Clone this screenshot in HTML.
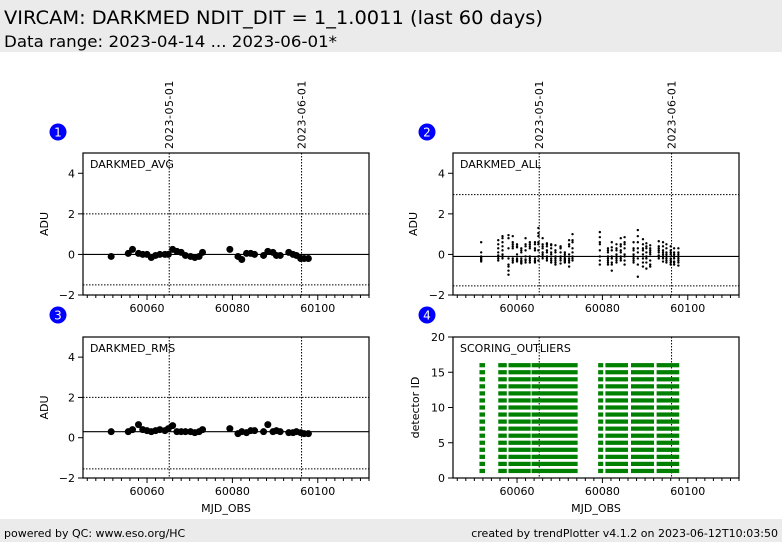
<!DOCTYPE html>
<html><head><meta charset="utf-8">
<style>
html,body{margin:0;padding:0;background:#fff;}
svg{display:block;font-family:"DejaVu Sans","Liberation Sans",sans-serif;}
</style></head>
<body>
<svg id="c" width="782" height="542" viewBox="0 0 782 542" xmlns="http://www.w3.org/2000/svg">
<rect x="0" y="0" width="782" height="52" fill="#ebebeb"/>
<text x="4" y="24" font-size="19" textLength="539" lengthAdjust="spacingAndGlyphs">VIRCAM: DARKMED NDIT_DIT = 1_1.0011 (last 60 days)</text>
<text x="4" y="47" font-size="16" textLength="333" lengthAdjust="spacingAndGlyphs">Data range: 2023-04-14 ... 2023-06-01*</text>
<rect x="0" y="519" width="782" height="23" fill="#ebebeb"/>
<text x="4" y="537" font-size="11">powered by QC: www.eso.org/HC</text>
<text x="778" y="537" font-size="11" text-anchor="end">created by trendPlotter v4.1.2 on 2023-06-12T10:03:50</text>
</svg>
<script>
const mjd=[60051.6,60055.6,60056.6,60058,60059,60060,60061,60062,60063,60064.2,60065,60066,60067,60068,60069,60070.2,60071.2,60072.2,60073,60079.4,60081.3,60082.2,60083.3,60084.3,60085.2,60087.3,60088.3,60089.5,60090.3,60091.2,60093.2,60094.2,60095,60096,60096.8,60097.8];
const avgVals=[-0.1,0.05,0.25,0.05,0.0,0.0,-0.15,-0.05,0.0,0.0,0.0,0.25,0.15,0.1,-0.05,-0.1,-0.15,-0.1,0.1,0.25,-0.1,-0.25,0.05,0.05,0.0,-0.05,0.15,0.1,-0.05,-0.05,0.1,0.0,-0.05,-0.2,-0.2,-0.2];
const rmsVals=[0.3,0.3,0.4,0.65,0.4,0.35,0.3,0.35,0.4,0.35,0.45,0.6,0.3,0.3,0.3,0.3,0.25,0.3,0.4,0.45,0.2,0.3,0.25,0.35,0.35,0.3,0.65,0.3,0.35,0.3,0.25,0.25,0.3,0.25,0.2,0.2];
const allVals=[
[0.6,-0.1,-0.2,-0.3,-0.35,-0.25,-0.15,0.1],
[0.3,0.1,-0.1,-0.2,-0.3,0.5,0.7,-0.05],
[0.9,0.8,0.6,0.4,0.2,-0.1,-0.2,0.0],
[0.95,0.8,0.3,-0.2,-0.5,-0.8,-1.0,-0.6],
[0.9,0.6,0.3,0.4,-0.3,-0.4,-0.2,0.5],
[0.5,0.35,-0.2,-0.3,-0.35,-0.25,0.0,0.4],
[0.3,-0.3,-0.4,-0.35,-0.2,0.1,0.2,-0.45],
[0.8,0.2,-0.3,-0.4,-0.25,0.4,0.5,-0.1],
[0.4,0.3,-0.1,-0.3,-0.4,-0.2,0.5,0.6],
[0.6,0.5,-0.2,-0.35,-0.3,0.2,0.3,-0.4],
[1.3,1.05,0.9,0.5,0.2,-0.1,-0.3,0.6],
[0.8,0.5,0.3,0.1,-0.1,-0.2,0.0,0.4],
[0.55,0.4,0.1,-0.1,-0.3,-0.2,0.2,0.5],
[0.5,0.3,0.0,-0.2,-0.4,-0.3,0.1,0.45],
[0.45,0.1,-0.2,-0.4,-0.5,-0.3,0.2,-0.1],
[0.4,0.3,-0.2,-0.45,-0.3,0.1,-0.1,0.35],
[0.1,-0.2,-0.4,-0.3,0.0,-0.1,-0.35,-0.25],
[0.7,0.4,0.0,-0.2,-0.4,-0.6,-0.3,0.5],
[1.0,0.7,0.3,-0.1,-0.3,-0.2,0.1,0.6],
[1.1,0.85,0.5,0.2,-0.1,-0.3,-0.5,0.6],
[0.3,0.1,-0.2,-0.4,-0.3,-0.1,0.2,-0.5],
[0.6,0.2,-0.2,-0.5,-0.8,-0.4,-0.1,0.35],
[0.5,0.2,-0.1,-0.3,-0.4,0.0,0.3,-0.2],
[0.8,0.5,0.2,-0.1,-0.3,-0.2,0.1,0.4],
[0.85,0.6,0.3,-0.1,-0.5,-0.3,0.0,0.5],
[0.6,0.3,-0.1,-0.4,-0.3,0.0,0.2,-0.2],
[1.2,0.9,0.6,-0.2,-0.5,-1.1,0.1,0.3],
[0.75,0.5,0.2,-0.2,-0.6,-0.4,0.0,0.3],
[0.55,0.3,-0.1,-0.4,-0.7,-0.2,0.1,0.4],
[0.45,0.2,0.0,-0.3,-0.6,-0.5,0.1,0.3],
[0.65,0.4,0.1,-0.1,-0.2,0.2,0.3,-0.05],
[0.6,0.4,0.1,-0.2,-0.35,-0.1,0.2,0.0],
[0.5,0.3,0.0,-0.3,-0.4,-0.2,0.1,-0.1],
[0.4,0.1,-0.2,-0.4,-0.5,-0.3,0.0,0.2],
[0.3,0.0,-0.2,-0.35,-0.5,-0.4,-0.1,0.1],
[0.3,0.0,-0.2,-0.4,-0.55,-0.3,-0.1,0.1]];
const blockStart=[60051.2,60055.6,60058,60063.4,60079,60080.7,60086.7,60092.7];
const blockEnd=[60052.5,60057.6,60063.2,60074.2,60080.2,60086,60092.1,60098];
const detectors=[1,2,3,4,5,6,7,8,9,10,11,12,13,14,15,16];
const xTicks=[60060,60080,60100];
const yTicksAdu=[-2,0,2,4];
const yTicksDet=[0,5,10,15,20];
const dateMjd=[60065.2,60096.2];
const dateLabels=["2023-05-01","2023-06-01"];

const NS="http://www.w3.org/2000/svg";
const svg=document.getElementById('c');
function mk(tag,attrs,parent){const e=document.createElementNS(NS,tag);for(const k in attrs)e.setAttribute(k,attrs[k]);(parent||svg).appendChild(e);return e;}

const XMIN=60045,XMAX=60112;
function panel(cfg){
  const g=mk('g',{});
  
  
  const sx=v=>cfg.x0+(v-XMIN)/(XMAX-XMIN)*(cfg.x1-cfg.x0);
  const sy=v=>cfg.y1-(v-cfg.ymin)/(cfg.ymax-cfg.ymin)*(cfg.y1-cfg.y0);
  cfg.dotted.forEach(v=>{const l=mk('line',{x1:cfg.x0,x2:cfg.x1,y1:sy(v),y2:sy(v),stroke:'#000','stroke-width':1,'stroke-dasharray':'1.5,1.5'},g);
    });
  if(cfg.solid!==undefined){const l=mk('line',{x1:cfg.x0,x2:cfg.x1,y1:sy(cfg.solid),y2:sy(cfg.solid),stroke:'#000','stroke-width':1.2},g);
    }
  dateMjd.forEach((d,i)=>{const l=mk('line',{x1:sx(d),x2:sx(d),y1:cfg.y0,y2:cfg.y1,stroke:'#000','stroke-width':1,'stroke-dasharray':'1.5,1.5'},g);
    
    if(cfg.dateLabels){const t=mk('text',{x:0,y:0,'font-size':11,transform:`translate(${sx(d)+4},${cfg.y0-4}) rotate(-90)`,'letter-spacing':'0.5'},g);
      t.textContent=dateLabels[i];}
  });
  cfg.draw(g,sx,sy);
  const f=mk('rect',{x:cfg.x0,y:cfg.y0,width:cfg.x1-cfg.x0,height:cfg.y1-cfg.y0,fill:'none',stroke:'#000','stroke-width':1.2},g);
  
  for(let v=60046;v<=XMAX;v+=2){const maj=xTicks.includes(v);
    mk('line',{x1:sx(v),x2:sx(v),y1:cfg.y1,y2:cfg.y1+(maj?5:3),stroke:'#000','stroke-width':1},g);}
  xTicks.forEach(v=>{const t=mk('text',{x:sx(v),y:cfg.y1+17,'font-size':11,'text-anchor':'middle'},g);t.textContent=v;
    });
  cfg.yTicks.forEach(v=>{mk('line',{x1:cfg.x0-5,x2:cfg.x0,y1:sy(v),y2:sy(v),stroke:'#000','stroke-width':1},g);
    const t=mk('text',{x:cfg.x0-8,y:sy(v)+4,'font-size':11,'text-anchor':'end'},g);t.textContent=(v<0?'\u2212'+(-v):v);
    });
  const yl=mk('text',{x:0,y:0,'font-size':11,'text-anchor':'middle',transform:`translate(${cfg.ylabX},${(cfg.y0+cfg.y1)/2}) rotate(-90)`},g);
  yl.textContent=cfg.ylab;
  if(cfg.xlab){const xl=mk('text',{x:(cfg.x0+cfg.x1)/2,y:cfg.y1+34,'font-size':11,'text-anchor':'middle'},g);
    xl.textContent='MJD_OBS';}
  const pl=mk('text',{x:cfg.x0+7,y:cfg.y0+15,'font-size':11},g);pl.textContent=cfg.title;
  
  const b=mk('g',{},g);
  mk('circle',{cx:cfg.bx,cy:cfg.by,r:8.5,fill:'#0000ff'},b);
  const bt=mk('text',{x:cfg.bx,y:cfg.by+4.5,'font-size':12,'text-anchor':'middle',fill:'#fff'},b);bt.textContent=cfg.num;
}
function dots(vals,r){return (g,sx,sy)=>{vals.forEach((v,i)=>{const c=mk('circle',{cx:sx(mjd[i]),cy:sy(v),r:r,fill:'#000'},g);
  });};}

panel({name:'darkmed-avg',num:1,title:'DARKMED_AVG',x0:83,x1:369,y0:153,y1:295,ymin:-2,ymax:5,yTicks:yTicksAdu,ylab:'ADU',ylabX:48,
  dotted:[2,-1.5],solid:0,dateLabels:true,bx:58,by:132,draw:dots(avgVals,3.5)});
panel({name:'darkmed-all',num:2,title:'DARKMED_ALL',x0:453,x1:739,y0:153,y1:295,ymin:-2,ymax:5,yTicks:yTicksAdu,ylab:'ADU',ylabX:417,
  dotted:[2.95,-1.55],solid:-0.1,dateLabels:true,bx:427,by:132,
  draw:(g,sx,sy)=>{allVals.forEach((arr,i)=>arr.forEach(v=>{const c=mk('circle',{cx:sx(mjd[i]),cy:sy(v),r:1.2,fill:'#000'},g);
    }));}});
panel({name:'darkmed-rms',num:3,title:'DARKMED_RMS',x0:83,x1:369,y0:337,y1:478,ymin:-2,ymax:5,yTicks:yTicksAdu,ylab:'ADU',ylabX:48,
  dotted:[2,-1.55],solid:0.3,xlab:true,bx:58,by:315,draw:dots(rmsVals,3.5)});
panel({name:'scoring-outliers',num:4,title:'SCORING_OUTLIERS',x0:453,x1:739,y0:337,y1:478,ymin:0,ymax:20,yTicks:yTicksDet,ylab:'detector ID',ylabX:419,
  dotted:[],xlab:true,bx:427,by:315,
  draw:(g,sx,sy)=>{detectors.forEach(d=>blockStart.forEach((s,i)=>{const r=mk('rect',{x:sx(s),y:sy(d+0.3),width:sx(blockEnd[i])-sx(s),height:sy(d-0.3)-sy(d+0.3),fill:'#008000'},g);
    }));}});
</script>
</body></html>
